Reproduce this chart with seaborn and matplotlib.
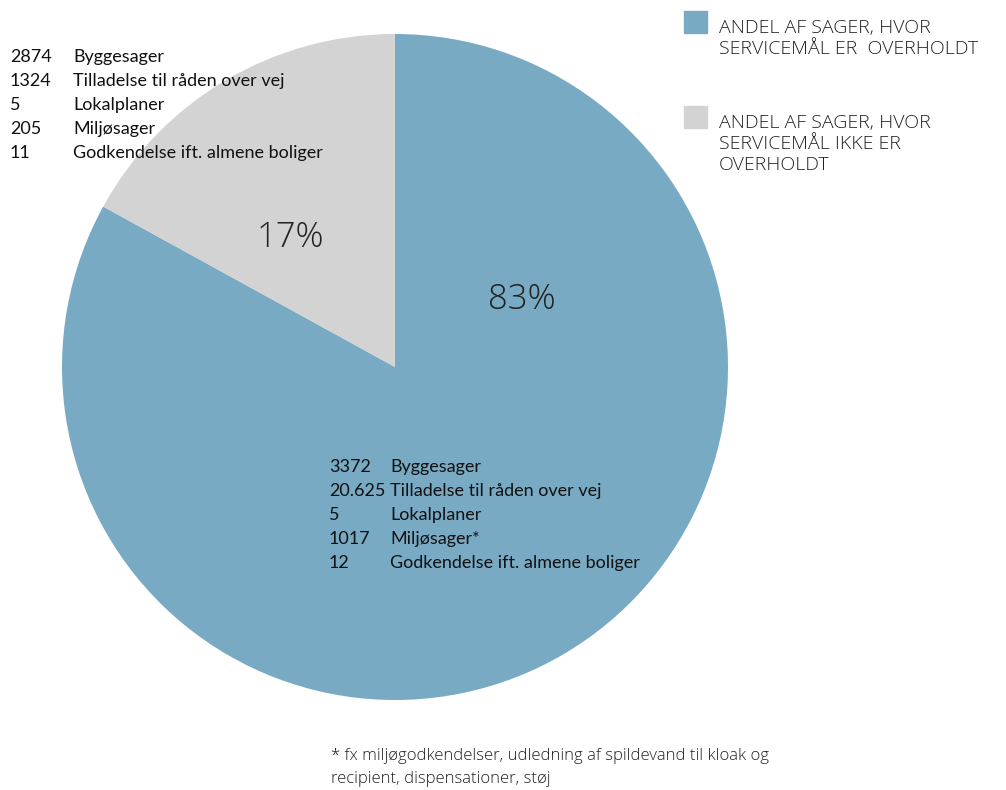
import matplotlib
matplotlib.use("Agg")
import matplotlib.pyplot as plt
import seaborn as sns

# andele i procent
labels = [["ANDEL AF SAGER, HVOR", "SERVICEMÅL ER  OVERHOLDT"],
          ["ANDEL AF SAGER, HVOR", "SERVICEMÅL IKKE ER", "OVERHOLDT"]]
shares = [83, 17]
pct_text = ["83%", "17%"]
colors = ["#78aac4", "#d3d3d3"]

# sagstyper og antal
case_types = ["Byggesager", "Tilladelse til råden over vej", "Lokalplaner",
              "Miljøsager", "Godkendelse ift. almene boliger"]
counts_ok = ["3372", "20.625", "5", "1017", "12"]
counts_not_ok = ["2874", "1324", "5", "205", "11"]
footnote = ["* fx miljøgodkendelser, udledning af spildevand til kloak og",
            "recipient, dispensationer, støj"]

sns.set_theme(style="white")
plt.rcParams["font.family"] = ["Lato", "DejaVu Sans"]
LIGHT = ["Open Sans", "DejaVu Sans"]

W, H = 1006, 790
fig = plt.figure(figsize=(W / 100, H / 100), dpi=100)

def fx(x):
    return x / W

def fy(y):
    return 1 - y / H

# pie: centrum (395, 367), radius 333 px
cx, cy, r = 395, 367, 333
ax = fig.add_axes([fx(cx - r), fy(cy + r), 2 * r / W, 2 * r / H])
ax.pie(shares, colors=colors, startangle=90, counterclock=False,
       wedgeprops=dict(linewidth=0))
ax.set_xlim(-1, 1)
ax.set_ylim(-1, 1)
ax.set_aspect("auto")
ax.axis("off")

# procenttal
ax.text((522 - cx) / r, (cy - 300) / r, pct_text[0], ha="center", va="center",
        fontsize=25, fontweight="light", family=LIGHT, color="#222222")
ax.text((290 - cx) / r, (cy - 238) / r, pct_text[1], ha="center", va="center",
        fontsize=25, fontweight="light", family=LIGHT, color="#222222")

# tekstblok for ikke overholdt (øverst til venstre)
for i, (n, t) in enumerate(zip(counts_not_ok, case_types)):
    y = 62 + i * 24
    fig.text(fx(10), fy(y), n, ha="left", va="baseline", fontsize=13, color="#111111")
    fig.text(fx(73), fy(y), t, ha="left", va="baseline", fontsize=13, color="#111111")

# tekstblok for overholdt (i den blå del)
ok_labels = case_types.copy()
ok_labels[3] = ok_labels[3] + "*"
for i, (n, t) in enumerate(zip(counts_ok, ok_labels)):
    y = 472 + i * 24
    fig.text(fx(329), fy(y), n, ha="left", va="baseline", fontsize=13, color="#111111")
    fig.text(fx(390), fy(y), t, ha="left", va="baseline", fontsize=13, color="#111111")

# legende
leg_tops = [11, 106]
for top, lines, c in zip(leg_tops, labels, colors):
    fig.patches.append(plt.Rectangle((fx(684), fy(top + 22)), 23 / W, 22 / H,
                                     transform=fig.transFigure, color=c, figure=fig))
    for j, line in enumerate(lines):
        fig.text(fx(719), fy(top + 22 + j * 21), line, ha="left", va="baseline",
                 fontsize=14, fontweight="light", family=LIGHT, color="#222222")

# fodnote
for j, line in enumerate(footnote):
    fig.text(fx(331), fy(760 + j * 23), line, ha="left", va="baseline", fontsize=12,
             fontweight="light", family=LIGHT, color="#222222")

fig.savefig("out.png", dpi=100)
